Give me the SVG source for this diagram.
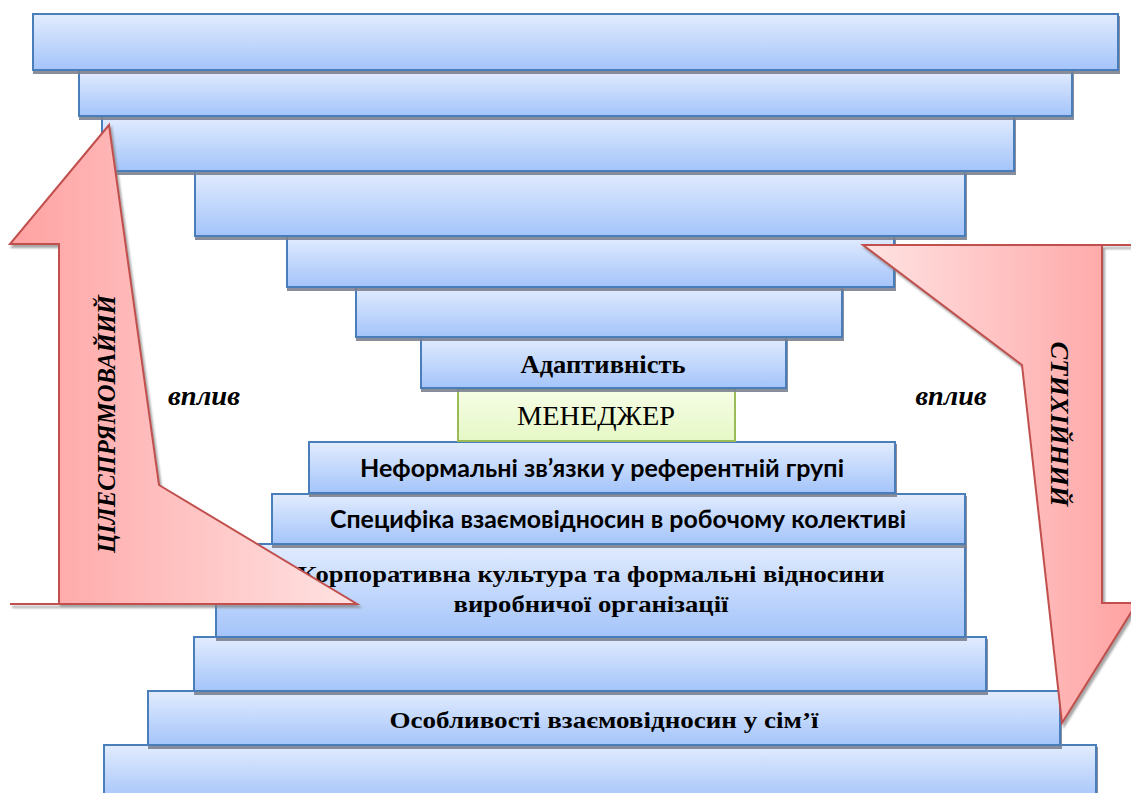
<svg xmlns="http://www.w3.org/2000/svg" width="1131" height="793" viewBox="0 0 1131 793">
  <defs>
    <linearGradient id="barFill" x1="0" y1="0" x2="0" y2="1">
      <stop offset="0" stop-color="#e2ecfe"/>
      <stop offset="1" stop-color="#a4c4fa"/>
    </linearGradient>
    <linearGradient id="coreFill" x1="0" y1="0" x2="0" y2="1">
      <stop offset="0" stop-color="#f6fde6"/>
      <stop offset="1" stop-color="#e6f8c6"/>
    </linearGradient>
    <linearGradient id="leftArrowFill" gradientUnits="userSpaceOnUse" x1="10" y1="0" x2="357" y2="0">
      <stop offset="0" stop-color="#ffa2a2"/>
      <stop offset="1" stop-color="#ffe3e3"/>
    </linearGradient>
    <linearGradient id="rightArrowFill" gradientUnits="userSpaceOnUse" x1="863" y1="0" x2="1137" y2="0">
      <stop offset="0" stop-color="#ffe3e3"/>
      <stop offset="1" stop-color="#ffa2a2"/>
    </linearGradient>
    <filter id="barShadow" x="-2%" y="-10%" width="104%" height="130%">
      <feOffset in="SourceAlpha" dx="1" dy="3" result="off"/>
      <feFlood flood-color="#7d8290" flood-opacity="0.9"/>
      <feComposite in2="off" operator="in" result="shadow"/>
      <feMerge><feMergeNode in="shadow"/><feMergeNode in="SourceGraphic"/></feMerge>
    </filter>
    <filter id="arrowShadow" x="-5%" y="-5%" width="115%" height="115%">
      <feOffset in="SourceAlpha" dx="2" dy="3" result="off"/>
      <feGaussianBlur in="off" stdDeviation="1" result="blur"/>
      <feFlood flood-color="#808080" flood-opacity="0.7"/>
      <feComposite in2="blur" operator="in" result="shadow"/>
      <feMerge><feMergeNode in="shadow"/><feMergeNode in="SourceGraphic"/></feMerge>
    </filter>
  </defs>
  <style>
    .bar { fill: url(#barFill); stroke: #4a7ebb; stroke-width: 2; filter: url(#barShadow); }
    .core { fill: url(#coreFill); stroke: #9bbb59; stroke-width: 2; }
    .arrow { stroke: #c0504d; stroke-width: 2; stroke-linejoin: miter; filter: url(#arrowShadow); }
    .serifB { font-family: "Liberation Serif", "Times New Roman", serif; font-weight: bold; fill: #000; text-anchor: middle; }
    .serif { font-family: "Liberation Serif", "Times New Roman", serif; fill: #000; text-anchor: middle; }
    .sansB { font-family: Lato, "Liberation Sans", sans-serif; font-weight: bold; fill: #000; text-anchor: middle; }
    .ital { font-family: "Liberation Serif", "Times New Roman", serif; font-weight: bold; font-style: italic; fill: #000; text-anchor: middle; }
  </style>

  <rect width="1131" height="793" fill="#ffffff"/>

  <!-- lower stack, widest at the bottom, drawn bottom-up so each upper shadow falls on the bar below -->
  <g id="base-13"><rect class="bar" x="104" y="745" width="992" height="56"/></g>
  <g id="family">
    <rect class="bar" x="148" y="691" width="912" height="54"/>
    <text class="serifB" x="604" y="728" font-size="24" textLength="429" lengthAdjust="spacingAndGlyphs">Особливості взаємовідносин у сім’ї</text>
  </g>
  <g id="base-11"><rect class="bar" x="194" y="637" width="792" height="54"/></g>
  <g id="corporate">
    <rect class="bar" x="216" y="544" width="749" height="93"/>
    <text class="serifB" x="591" y="582" font-size="24" textLength="587" lengthAdjust="spacingAndGlyphs">Корпоративна культура та формальні відносини</text>
    <text class="serifB" x="591" y="612" font-size="24" textLength="275" lengthAdjust="spacingAndGlyphs">виробничої організації</text>
  </g>
  <g id="workteam">
    <rect class="bar" x="272" y="494" width="693" height="50"/>
    <text class="sansB" x="618" y="528" font-size="24" textLength="576" lengthAdjust="spacingAndGlyphs">Специфіка взаємовідносин в робочому колективі</text>
  </g>
  <g id="reference-group">
    <rect class="bar" x="309" y="442" width="586" height="51"/>
    <text class="sansB" x="602" y="477" font-size="24" textLength="484" lengthAdjust="spacingAndGlyphs">Неформальні зв’язки у референтній групі</text>
  </g>

  <!-- centre -->
  <g id="manager">
    <rect class="core" x="458" y="389" width="277" height="52"/>
    <text class="serif" x="596" y="425" font-size="27" textLength="158" lengthAdjust="spacingAndGlyphs">МЕНЕДЖЕР</text>
  </g>

  <!-- upper stack, narrowest at the bottom -->
  <g id="adaptivity">
    <rect class="bar" x="421" y="337" width="365" height="51"/>
    <text class="serifB" x="603" y="373" font-size="25" textLength="165" lengthAdjust="spacingAndGlyphs">Адаптивність</text>
  </g>
  <g id="top-6"><rect class="bar" x="356" y="287" width="486" height="50"/></g>
  <g id="top-5"><rect class="bar" x="287" y="236" width="607" height="51"/></g>
  <g id="top-4"><rect class="bar" x="195" y="171" width="770" height="65"/></g>
  <g id="top-3"><rect class="bar" x="102" y="116" width="912" height="55"/></g>
  <g id="top-2"><rect class="bar" x="79" y="70" width="993" height="46"/></g>
  <g id="top-1"><rect class="bar" x="33" y="14" width="1085" height="56"/></g>

  <!-- influence labels -->
  <g id="label-left"><text class="ital" x="204" y="405" font-size="27" textLength="72" lengthAdjust="spacingAndGlyphs">вплив</text></g>
  <g id="label-right"><text class="ital" x="951" y="405" font-size="27" textLength="71" lengthAdjust="spacingAndGlyphs">вплив</text></g>

  <!-- bent block arrows of influence -->
  <g id="connectors">
    <g id="arrow-purposeful">
      <path class="arrow" fill="url(#leftArrowFill)" d="M109,125 L10,244 L59,244 L59,604 L10,604 L357,604 L159,485 Z"/>
      <text class="ital" transform="translate(115,424) rotate(-90)" font-size="26" textLength="258" lengthAdjust="spacingAndGlyphs">ЦІЛЕСПРЯМОВАЙИЙ</text>
    </g>
    <g id="arrow-spontaneous">
      <path class="arrow" fill="url(#rightArrowFill)" d="M863,245 L1140,245 L1102,245 L1102,603 L1137,603 L1062,723 L1022,365 Z"/>
      <text class="ital" transform="translate(1051,424) rotate(90)" font-size="26" textLength="165" lengthAdjust="spacingAndGlyphs">СТИХІЙНИЙ</text>
    </g>
  </g>
</svg>
